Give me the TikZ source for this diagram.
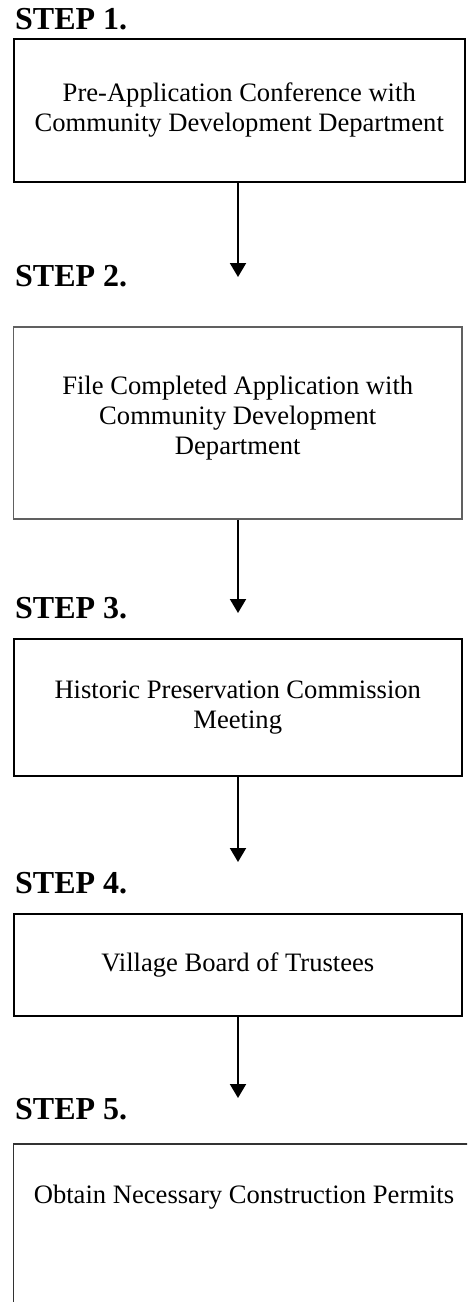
\documentclass[tikz,border=0pt]{standalone}
\usepackage{fontspec}
\setmainfont{Liberation Serif}
\usetikzlibrary{arrows.meta}
\definecolor{boxgray}{RGB}{96,96,96}
\definecolor{boxdark}{RGB}{50,50,50}
\tikzset{
  stepbox/.style={draw=black, line width=2pt, rectangle, align=center, inner sep=0pt,
    font=\fontsize{26.6pt}{30pt}\selectfont},
  boxtext/.style={align=center, inner sep=0pt, font=\fontsize{26.6pt}{30pt}\selectfont},
  steplabel/.style={anchor=base west, inner sep=0pt, font=\fontsize{32pt}{34pt}\selectfont\bfseries},
  flow/.style={line width=2pt, -{Triangle[width=16pt,length=14pt]}, shorten >=0pt},
}
\begin{document}
\begin{tikzpicture}[x=1pt,y=-1pt]
\useasboundingbox (0,0) rectangle (467,1302);
\clip (0,0) rectangle (467,1302);

\node[steplabel] (s1) at (15,29) {STEP 1.};
\node[stepbox, minimum width=451.5pt, minimum height=143pt] (b1) at (239.25,110.5)
  {Pre-Application Conference with\\Community Development Department};

\node[steplabel] (s2) at (15,286) {STEP 2.};
\node[stepbox, draw=boxgray, line width=1.6pt, minimum width=448.5pt, minimum height=192pt] (b2) at (237.75,423) {};
\node[boxtext] (t2) at (237.75,418)
  {File Completed Application with\\Community Development\\Department};

\node[steplabel] (s3) at (15,618) {STEP 3.};
\node[stepbox, minimum width=448.5pt, minimum height=137pt] (b3) at (237.75,707.5)
  {Historic Preservation Commission\\Meeting};

\node[steplabel] (s4) at (15,893) {STEP 4.};
\node[stepbox, minimum width=448.5pt, minimum height=102pt] (b4) at (237.75,965)
  {Village Board of Trustees};

\node[steplabel] (s5) at (15,1119) {STEP 5.};
\node[stepbox, draw=boxdark, line width=1.6pt, minimum width=461pt, minimum height=230pt] (b5) at (244,1259) {};
\node[boxtext, anchor=base] (t5) at (244,1203)
  {Obtain Necessary Construction Permits};

\coordinate (a1) at (238,277);
\coordinate (a2) at (238,613);
\coordinate (a3) at (238,862);
\coordinate (a4) at (238,1098);

\draw[flow] (b1.south -| a1) -- (a1);
\draw[flow] (b2.south -| a2) -- (a2);
\draw[flow] (b3.south -| a3) -- (a3);
\draw[flow] (b4.south -| a4) -- (a4);
\end{tikzpicture}
\end{document}
